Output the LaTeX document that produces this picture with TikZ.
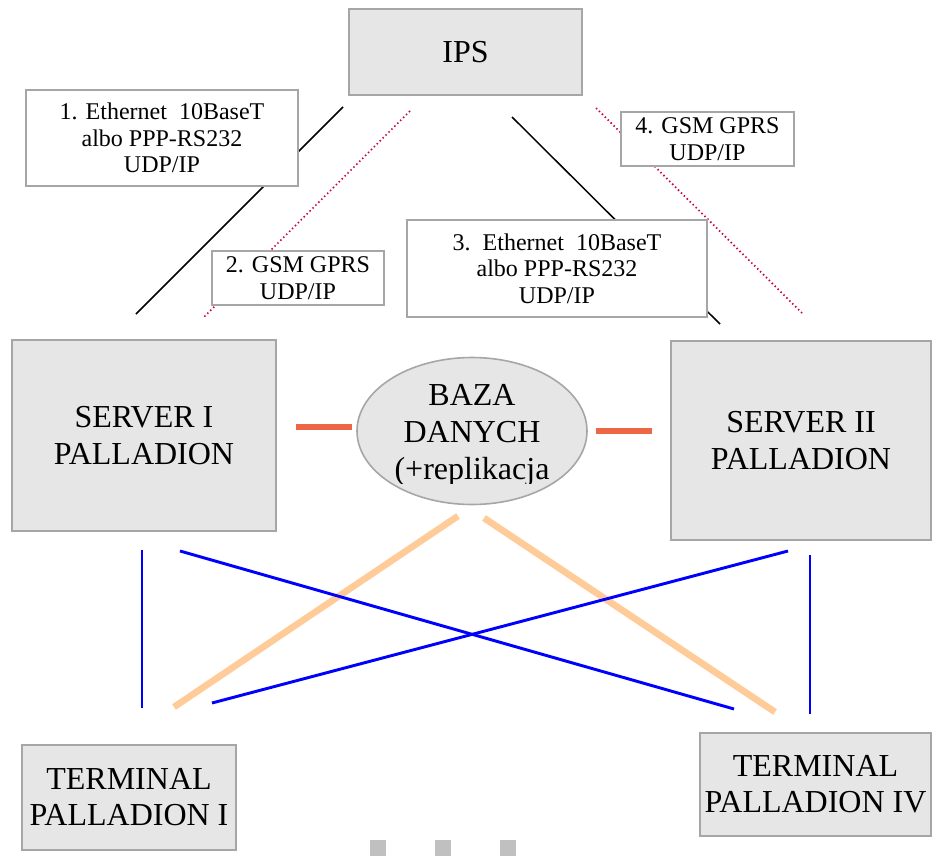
\documentclass[tikz,border=0pt]{standalone}
\usepackage{fontspec}
\setmainfont{Liberation Serif}
\usetikzlibrary{shapes.geometric}
\definecolor{boxfill}{HTML}{E6E6E6}
\definecolor{boxline}{HTML}{A6A6A6}
\definecolor{dotred}{rgb}{0.8,0.0,0.32}
\definecolor{barred}{rgb}{0.93,0.40,0.27}
\definecolor{peach}{rgb}{1.0,0.8,0.6}
\definecolor{sqgray}{HTML}{C0C0C0}
\tikzset{
  graybox/.style={draw=boxline, line width=1.2pt, fill=boxfill, align=center, inner sep=0pt,
    font=\fontsize{24}{28}\selectfont},
  labelbox/.style={draw=boxline, line width=1.2pt, fill=white, align=center, inner sep=0pt,
    font=\fontsize{18}{20}\selectfont},
  solidlink/.style={black, line width=1.1pt},
  dotlink/.style={dotred, line width=1.3pt, dash pattern=on 1.1pt off 2pt},
  dbbar/.style={barred, line width=4.5pt},
  peachlink/.style={peach, line width=5pt},
  bluelink/.style={blue, line width=2.2pt},
}
\begin{document}
\begin{tikzpicture}[x=0.75pt,y=-0.75pt]
\useasboundingbox (0,0) rectangle (932,856);
% main nodes
\node[graybox, minimum width=0.75pt*233, minimum height=0.75pt*86] (ips) at (465.5,52) {IPS};
\node[graybox, minimum width=0.75pt*264, minimum height=0.75pt*191] (s1) at (144,435.5) {SERVER I\\PALLADION};
\node[graybox, minimum width=0.75pt*260, minimum height=0.75pt*199] (s2) at (801,440.5) {SERVER II\\PALLADION};
\node[graybox, ellipse, minimum width=0.75pt*230, minimum height=0.75pt*147] (db) at (472,431) {};
\begin{scope}
  \clip (357,355) rectangle (587,483);
  \node[align=center, inner sep=0pt, font=\fontsize{24}{27.75}\selectfont] (dbtext) at (472,435) {BAZA\\DANYCH\\(+replikacja};
\end{scope}
\node[graybox, minimum width=0.75pt*214, minimum height=0.75pt*105, font=\fontsize{24}{27}\selectfont] (t1) at (129,797.5) {TERMINAL\\PALLADION I};
\node[graybox, minimum width=0.75pt*231, minimum height=0.75pt*103, font=\fontsize{24}{27}\selectfont] (t4) at (815.5,784.5) {TERMINAL\\PALLADION IV};
% link end points
\coordinate (a1) at (343,107); \coordinate (b1) at (136,314);
\coordinate (a2) at (410,111); \coordinate (b2) at (204,317);
\coordinate (a3) at (512,117); \coordinate (b3) at (720,324);
\coordinate (a4) at (596,108); \coordinate (b4) at (802,313);
\draw[solidlink] (a1) -- (b1);
\draw[dotlink] (a2) -- (b2);
\draw[solidlink] (a3) -- (b3);
\draw[dotlink] (a4) -- (b4);
% labels
\node[labelbox, minimum width=0.75pt*272, minimum height=0.75pt*96] (l1) at (162,138) {1. Ethernet\ \ 10BaseT\\albo PPP-RS232\\UDP/IP};
\node[labelbox, minimum width=0.75pt*172, minimum height=0.75pt*54] (l2) at (298,278) {2. GSM GPRS\\UDP/IP};
\node[labelbox, minimum width=0.75pt*300, minimum height=0.75pt*97] (l3) at (557,268.5) {3.\ \ Ethernet\ \ 10BaseT\\albo PPP-RS232\\UDP/IP};
\node[labelbox, minimum width=0.75pt*173, minimum height=0.75pt*54] (l4) at (707.5,139) {4. GSM GPRS\\UDP/IP};
% database bars
\coordinate (c1) at (296,427); \coordinate (d1) at (352,427);
\coordinate (c2) at (596,431); \coordinate (d2) at (652,431);
\draw[dbbar] (c1) -- (d1);
\draw[dbbar] (c2) -- (d2);
% lower links
\coordinate (e1) at (142,550); \coordinate (f1) at (142,708);
\coordinate (e2) at (180,551); \coordinate (f2) at (734,709);
\coordinate (e3) at (788,551); \coordinate (f3) at (212,703);
\coordinate (e4) at (810,555); \coordinate (f4) at (810,714);
\coordinate (g1) at (458,516); \coordinate (h1) at (174,707);
\coordinate (g2) at (484,518); \coordinate (h2) at (775,712);
\draw[peachlink] (g1) -- (h1);
\draw[peachlink] (g2) -- (h2);
\draw[bluelink] (e1) -- (f1);
\draw[bluelink] (e2) -- (f2);
\draw[bluelink] (e3) -- (f3);
\draw[bluelink] (e4) -- (f4);
% ellipsis squares
\fill[sqgray] (370,840) rectangle (386,856);
\fill[sqgray] (435,840) rectangle (451,856);
\fill[sqgray] (500,840) rectangle (516,856);
\end{tikzpicture}
\end{document}
